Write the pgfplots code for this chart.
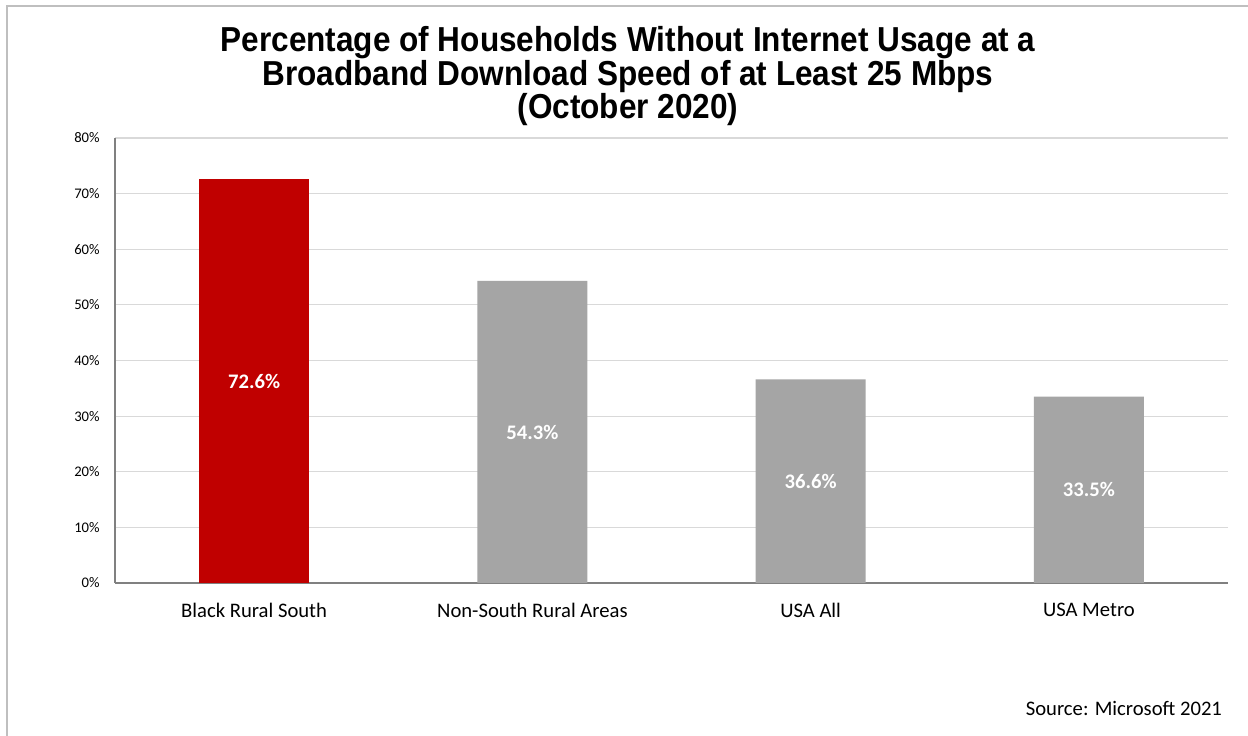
\documentclass[border=0pt]{standalone}
\usepackage{fontspec}
\usepackage{pgfplots}
\pgfplotsset{compat=1.18}
\setmainfont{Carlito}
\newfontfamily\titlefont[FakeStretch=0.91]{Liberation Sans}
\definecolor{barred}{HTML}{C00000}
\definecolor{bargray}{HTML}{A5A5A5}
\definecolor{gridc}{HTML}{D9D9D9}
\definecolor{axc}{HTML}{808080}
\definecolor{framec}{HTML}{BFBFBF}
\pgfplotstableread{
x y mid
0 72.6 36.30
}\redtab
\pgfplotstableread{
x y mid
1 54.3 27.15
2 36.6 18.30
3 33.5 16.75
}\graytab
\begin{document}
\begin{tikzpicture}
\useasboundingbox (0pt,0pt) rectangle (936pt,551.25pt);
\fill[white] (0pt,0pt) rectangle (936pt,551.25pt);
\draw[framec, line width=1.5pt] (4.9pt,-5pt) -- (4.9pt,547.1pt) -- (936pt,547.1pt);
\node[font=\titlefont\bfseries\fontsize{26}{25.2}\selectfont, align=center, anchor=north] at (471pt,535pt)
 {Percentage of Households Without Internet Usage at a\\Broadband Download Speed of at Least 25 Mbps\\(October 2020)};
\begin{axis}[
  at={(86.25pt,114pt)}, anchor=south west,
  scale only axis, width=834.75pt, height=333.75pt,
  xmin=-0.5, xmax=3.5, ymin=0, ymax=80,
  ybar, bar width=0.396, bar shift=0pt,
  xtick={0,1,2,3},
  xticklabels={Black Rural South, Non-South Rural Areas, USA All, USA Metro},
  ytick={0,10,...,80},
  yticklabel={\pgfmathprintnumber{\tick}\%},
  /pgf/number format/assume math mode=true,
  yticklabel style={font=\fontsize{11}{12}\selectfont, xshift=-8pt},
  xticklabel style={font=\fontsize{15.5}{17}\selectfont, yshift=-11.5pt},
  major tick length=0pt,
  ymajorgrids, grid style={gridc, line width=0.9pt},
  axis x line*=bottom, axis y line*=left,
  axis line style={axc, line width=1pt},
  x axis line style={-}, y axis line style={-},
  clip=false,
]
\addplot[fill=barred, draw=none] table[x=x,y=y]{\redtab};
\addplot[fill=bargray, draw=none] table[x=x,y=y]{\graytab};
\addplot[draw=none, fill=none, nodes near coords={\pgfmathprintnumber[fixed, fixed zerofill, precision=1]{\pgfplotspointmeta}\%},
  point meta=explicit,
  nodes near coords style={font=\bfseries\fontsize{15.5}{17}\selectfont, white, anchor=center, /pgf/number format/assume math mode=true}]
  table[x=x,y=mid,meta=y]{\redtab};
\addplot[draw=none, fill=none, nodes near coords={\pgfmathprintnumber[fixed, fixed zerofill, precision=1]{\pgfplotspointmeta}\%},
  point meta=explicit,
  nodes near coords style={font=\bfseries\fontsize{15.5}{17}\selectfont, white, anchor=center, /pgf/number format/assume math mode=true}]
  table[x=x,y=mid,meta=y]{\graytab};
\end{axis}
\node[font=\fontsize{15.5}{17}\selectfont, anchor=east] at (920pt,20pt) {Source: Microsoft 2021};
\end{tikzpicture}
\end{document}
